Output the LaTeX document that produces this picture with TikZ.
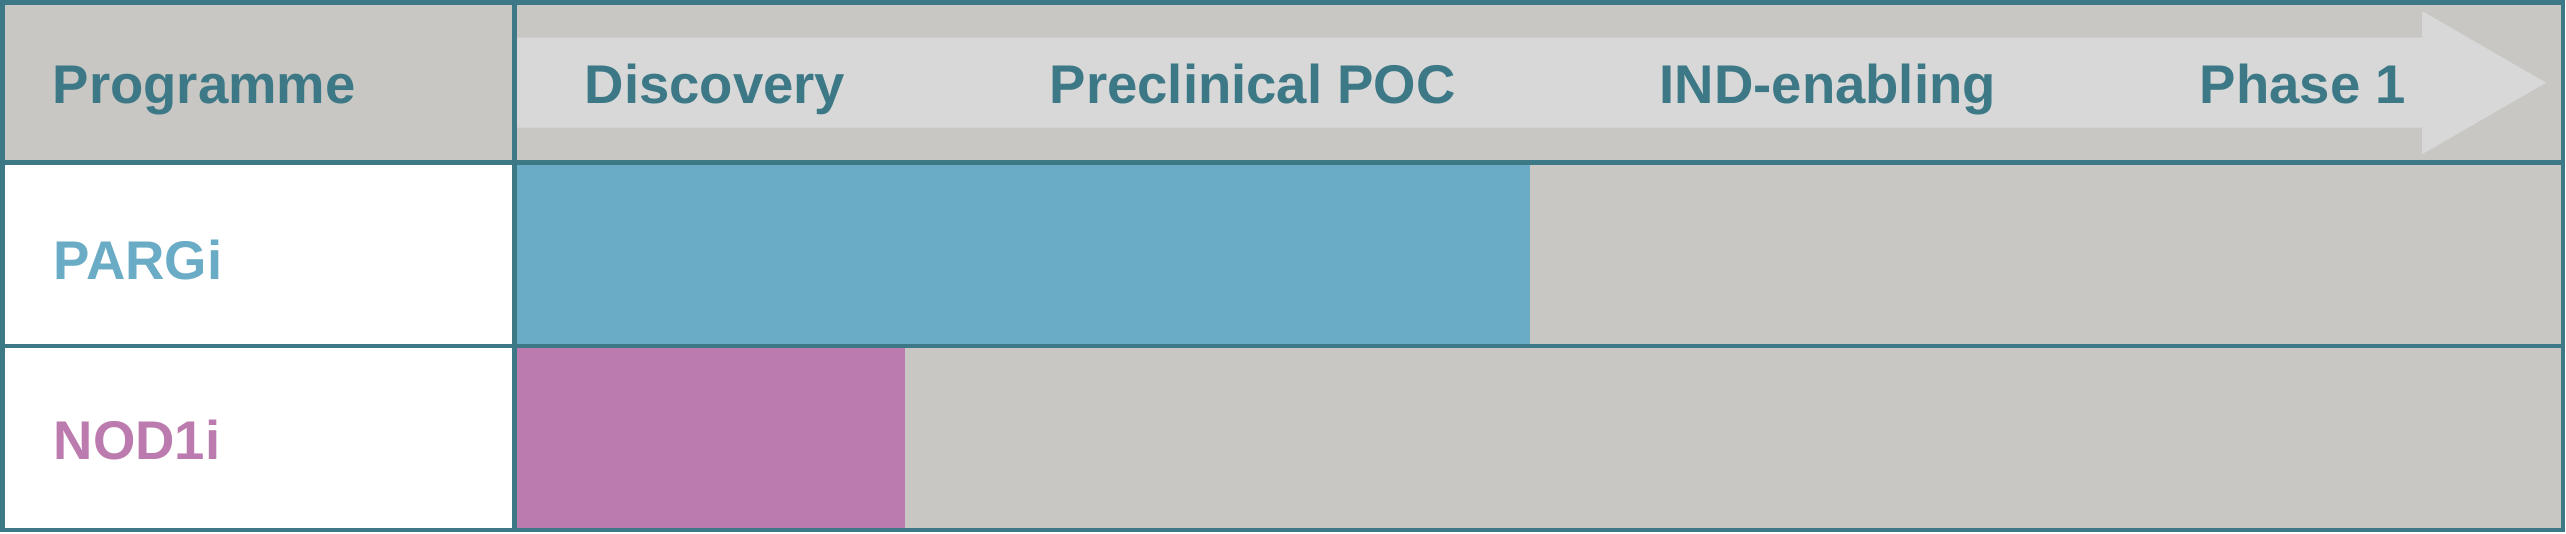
\documentclass[tikz,border=0pt]{standalone}
\usepackage{fontspec}
\setmainfont{Liberation Sans}

\definecolor{tealline}{RGB}{60,120,134}
\definecolor{bggray}{RGB}{200,199,195}
\definecolor{bandgray}{RGB}{216,216,216}
\definecolor{pargblue}{RGB}{106,172,197}
\definecolor{nodpink}{RGB}{188,123,174}

\begin{document}
\begin{tikzpicture}[x=0.01cm,y=-0.01cm,
  grid/.style={tealline,line width=1.34pt},
  phase/.style={anchor=base west,inner sep=0pt,text=tealline,font=\fontsize{15.5}{16}\selectfont\bfseries},
  prog/.style={phase}]
\useasboundingbox (0,0) rectangle (2566,533);

% backgrounds
\fill[bggray] (2.3,2.3) rectangle (2563,530);
\fill[white] (2.3,162.5) rectangle (514.3,530);

% phase arrow
\fill[bandgray] (514.3,37.7) -- (2422,37.7) -- (2422,11) -- (2546,82.7)
  -- (2422,154.3) -- (2422,127.7) -- (514.3,127.7) -- cycle;

% progress bars
\fill[pargblue] (514.3,162.5) rectangle (1530,346);
\fill[nodpink] (514.3,346) rectangle (905,530);

% table lines
\draw[grid] (2.3,2.3) rectangle (2563,530);
\draw[grid] (2.3,162.5) -- (2563,162.5);
\draw[grid] (2.3,346) -- (2563,346);
\draw[grid] (514.3,2.3) -- (514.3,530);

% header
\node[phase] (prg) at (52,103) {Programme};
\node[phase] (disc) at (584,103) {Discovery};
\node[phase] (poc) at (1049,103) {Preclinical POC};
\node[phase] (ind) at (1659,103) {IND-enabling};
\node[phase] (ph1) at (2199,103) {Phase 1};

% programmes
\node[prog,text=pargblue] (parg) at (53,279) {PARGi};
\node[prog,text=nodpink] (nod) at (53,459) {NOD1i};

\end{tikzpicture}
\end{document}
